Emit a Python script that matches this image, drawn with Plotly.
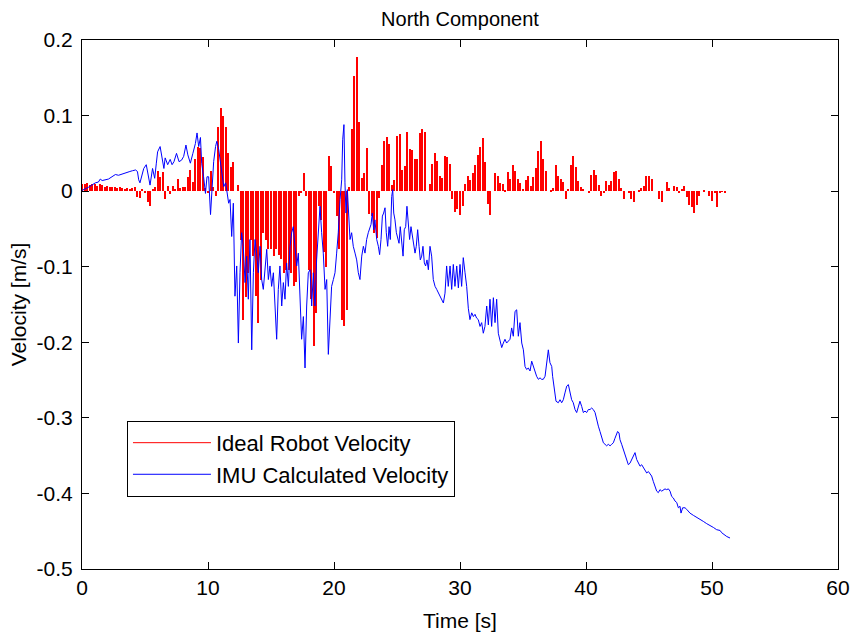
import plotly.graph_objects as go

# ---------------- data ----------------
# Ideal robot velocity: bar values sampled every 0.2 s starting at t = 0
bar_t0 = 0.0
bar_dt = 0.2
ideal_v = [
    # 0 - 2 s
    0.010, 0.009, 0.011, 0.008, 0.010, 0.009, 0.007, 0.009, 0.008, 0.006,
    # 2 - 4 s
    0.007, 0.006, 0.005, 0.006, 0.004, 0.005, 0.004, 0.003, 0.004, 0.003,
    # 4 - 6 s
    0.004, 0.005, -0.008, -0.009, 0.003, -0.002, -0.015, -0.020, 0.003, 0.005,
    # 6 - 8 s
    0.026, 0.019, 0.025, -0.011, 0.007, -0.004, 0.007, 0.003, 0.016, 0.004,
    # 8 - 10 s
    0.005, 0.006, 0.019, 0.028, 0.012, 0.042, 0.058, 0.057, 0.045, 0.004,
    # 10 - 12 s
    -0.003, 0.026, 0.005, -0.007, 0.085, 0.110, 0.100, 0.085, 0.050, 0.032,
    # 12 - 14 s
    0.038, 0.000, 0.008, -0.064, -0.170, -0.140, -0.108, -0.064, -0.086, -0.139,
    # 14 - 16 s
    -0.174, -0.117, -0.055, -0.064, -0.077, -0.077, -0.086, -0.077, -0.084, -0.090,
    # 16 - 18 s
    -0.108, -0.104, -0.104, -0.108, -0.125, -0.120, -0.007, -0.003, 0.024, -0.007,
    # 18 - 20 s
    -0.104, -0.143, -0.205, -0.161, -0.020, -0.038, -0.080, -0.100, 0.046, 0.033,
    # 20 - 22 s
    -0.002, -0.033, -0.077, -0.170, -0.179, -0.157, 0.006, 0.082, 0.152, 0.178,
    # 22 - 24 s
    0.092, 0.017, 0.024, 0.057, -0.030, -0.033, -0.055, -0.062, -0.009, 0.035,
    # 24 - 26 s
    0.067, 0.072, 0.062, 0.008, 0.015, 0.073, 0.075, 0.028, 0.033, 0.078,
    # 26 - 28 s
    0.056, 0.054, 0.042, 0.043, 0.077, 0.082, 0.078, 0.000, 0.010, 0.036,
    # 28 - 30 s
    0.051, 0.040, 0.020, 0.018, 0.046, 0.045, 0.036, -0.011, -0.028, -0.024,
    # 30 - 32 s
    -0.032, -0.020, 0.009, 0.020, 0.015, 0.024, 0.035, 0.048, 0.058, 0.070,
    # 32 - 34 s
    0.039, -0.017, -0.031, 0.000, 0.024, 0.020, 0.011, 0.010, 0.002, 0.025,
    # 34 - 36 s
    0.016, 0.034, 0.026, 0.016, 0.011, 0.003, 0.015, 0.020, 0.007, 0.019,
    # 36 - 38 s
    0.030, 0.053, 0.066, 0.042, 0.026, 0.000, 0.002, 0.004, 0.034, 0.020,
    # 38 - 40 s
    0.016, 0.012, -0.011, 0.003, 0.034, 0.047, 0.032, 0.013, 0.006, 0.003,
    # 40 - 42 s
    0.000, -0.003, 0.022, 0.028, 0.021, 0.008, -0.006, -0.002, 0.014, 0.008,
    # 42 - 44 s
    0.014, 0.025, 0.026, 0.016, 0.004, -0.010, 0.000, -0.002, -0.010, -0.014,
    # 44 - 46 s
    0.000, 0.001, 0.004, 0.007, 0.020, 0.020, 0.016, 0.000, 0.000, -0.011,
    # 46 - 48 s
    -0.015, 0.000, 0.012, 0.004, 0.000, 0.007, 0.006, -0.003, 0.003, 0.007,
    # 48 - 50 s
    -0.008, -0.018, -0.021, -0.029, -0.018, -0.007, 0.000, 0.001, 0.000, -0.007,
    # 50 - 51 s
    -0.013, -0.002, -0.021, -0.002, -0.001, -0.002,
]

# IMU calculated velocity (time [s], velocity [m/s])
imu_t = [
    0.00, 0.50, 1.06, 1.30, 1.45, 1.60, 2.10, 2.40, 2.65, 2.90, 3.20, 3.40, 3.60, 3.80,
    4.00, 4.25, 4.40, 4.50, 4.60, 4.75, 4.90, 5.10, 5.30, 5.40, 5.60, 5.77, 5.90, 6.00,
    6.20, 6.35, 6.50, 6.60, 6.80, 7.00, 7.15, 7.30, 7.50, 7.70, 7.90, 8.07, 8.25, 8.40,
    8.60, 8.80, 9.00, 9.13, 9.26, 9.40, 9.50, 9.65, 9.80, 9.92, 10.05, 10.20, 10.32,
    10.45, 10.60, 10.70, 10.85, 11.00, 11.10, 11.25, 11.40, 11.50, 11.64,
    11.75, 11.88, 12.01, 12.14, 12.28, 12.41, 12.54, 12.67, 12.80, 12.94, 13.07, 13.20,
    13.33, 13.47, 13.60, 13.73, 13.86, 13.99, 14.13, 14.26, 14.39, 14.52, 14.66, 14.79,
    14.92, 15.05, 15.19, 15.32, 15.45, 15.58, 15.71, 15.85, 15.98, 16.11, 16.24, 16.38,
    16.51, 16.64, 16.77, 16.90, 17.04, 17.17, 17.30, 17.43, 17.57, 17.70, 17.83, 17.96,
    18.10, 18.23, 18.36, 18.49, 18.62, 18.76, 18.89, 19.02, 19.15, 19.29, 19.42, 19.55,
    19.68, 19.81, 19.95, 20.08, 20.21, 20.34, 20.48, 20.61, 20.69, 20.79, 20.87, 20.95,
    21.06, 21.14, 21.27, 21.40, 21.53, 21.67, 21.80, 21.93, 22.06, 22.20, 22.33, 22.46,
    22.59, 22.72,
    22.94, 23.04, 23.15, 23.25, 23.39, 23.52, 23.62, 23.73, 23.84, 23.94, 24.05, 24.15,
    24.26, 24.37, 24.47, 24.58, 24.66, 24.74, 24.84, 24.95, 25.05, 25.16, 25.26, 25.37,
    25.48, 25.58, 25.69, 25.79, 25.90, 26.00, 26.11, 26.22, 26.32, 26.43, 26.53, 26.64,
    26.75, 26.85, 26.96, 27.06, 27.17, 27.27, 27.38, 27.49, 27.62, 27.75, 27.88, 28.02,
    28.15, 28.28, 28.41, 28.54, 28.68, 28.81, 28.94,
    29.07, 29.21, 29.34, 29.47, 29.60, 29.74, 29.87, 30.00, 30.13, 30.26, 30.40, 30.53,
    30.66, 30.79, 30.93, 31.06, 31.19, 31.32, 31.45, 31.59, 31.72, 31.85, 31.98, 32.12,
    32.25, 32.38, 32.51, 32.65, 32.78, 32.91, 33.04, 33.17, 33.31, 33.44, 33.57, 33.70,
    33.84, 33.97, 34.10, 34.23, 34.37, 34.50, 34.63, 34.76, 34.90, 35.03, 35.16, 35.29,
    35.42, 35.56, 35.69, 35.82, 35.95, 36.08, 36.22, 36.35, 36.48, 36.61, 36.75, 36.88,
    37.01, 37.14,
    37.28, 37.35, 37.46, 37.62, 37.80, 37.94, 38.07, 38.20, 38.33, 38.47, 38.60, 38.73,
    38.86, 38.99, 39.13, 39.26, 39.39, 39.52, 39.66, 39.79, 39.92, 40.05, 40.19, 40.32,
    40.45, 40.58, 40.72, 40.85, 40.98, 41.11, 41.24, 41.38, 41.51, 41.64, 41.77, 41.91,
    42.04, 42.17, 42.30, 42.43, 42.51, 42.62, 42.70, 42.83, 42.96, 43.10, 43.23, 43.36,
    43.49, 43.62, 43.76, 43.89, 44.02, 44.15, 44.29, 44.42, 44.55, 44.68, 44.82, 44.95,
    45.08, 45.21, 45.34, 45.48, 45.61, 45.74, 45.87, 46.01, 46.14, 46.27, 46.40, 46.54,
    46.67, 46.80, 46.93, 47.06, 47.20, 47.33, 47.46, 47.54, 47.67, 47.86, 47.99, 48.25,
    48.52, 48.78, 49.05, 49.31, 49.58, 49.84, 50.11, 50.37, 50.64, 50.77, 50.90, 51.17,
    51.43,
]
imu_v = [
    0.001, 0.005, 0.011, 0.012, 0.016, 0.014, 0.016, 0.019, 0.022, 0.021, 0.023, 0.024, 0.025, 0.026,
    0.027, 0.028, 0.026, 0.015, 0.011, 0.022, 0.030, 0.035, 0.019, 0.008, 0.030, 0.017, 0.037, 0.052,
    0.059, 0.041, 0.030, 0.044, 0.035, 0.042, 0.035, 0.039, 0.050, 0.039, 0.041, 0.046, 0.061, 0.048,
    0.037, 0.050, 0.063, 0.077, 0.059, 0.071, 0.037, 0.019, -0.003, 0.019, 0.019, -0.031, 0.010,
    0.039, 0.059, 0.066, 0.055, 0.037, 0.026, 0.006, 0.011, -0.003, -0.016,
    -0.011, -0.060, -0.016, -0.139, -0.099, -0.201, -0.108, -0.055, -0.073, -0.121, -0.086, -0.143,
    -0.064, -0.210, -0.108, -0.064, -0.082, -0.108, -0.073, -0.117, -0.130, -0.099, -0.077, -0.117,
    -0.099, -0.126, -0.108, -0.152, -0.196, -0.130, -0.099, -0.152, -0.121, -0.143, -0.095, -0.126,
    -0.073, -0.055, -0.047, -0.073, -0.099, -0.082, -0.135, -0.196, -0.166, -0.234, -0.152, -0.108,
    -0.104, -0.152, -0.108, -0.152, -0.091, -0.047, -0.020, -0.055, -0.082, -0.130, -0.117, -0.216,
    -0.170, -0.126, -0.117, -0.108, -0.082, -0.055, -0.011, 0.015, 0.068, 0.088, 0.011, -0.029,
    0.002, -0.029, -0.064, -0.055, -0.073, -0.082, -0.091, -0.108, -0.117, -0.086, -0.073, -0.082,
    -0.064, -0.055,
    -0.044, -0.029, -0.051, -0.038, -0.064, -0.073, -0.084, -0.064, -0.033, -0.029, -0.022, -0.055,
    -0.073, -0.047, -0.064, -0.007, 0.002, -0.029, -0.038, -0.055, -0.064, -0.069, -0.047, -0.073,
    -0.086, -0.051, -0.047, -0.020, -0.038, -0.064, -0.047, -0.060, -0.069, -0.082, -0.073, -0.051,
    -0.073, -0.091, -0.086, -0.073, -0.095, -0.099, -0.091, -0.104, -0.073, -0.086, -0.117, -0.126,
    -0.130, -0.135, -0.139, -0.144, -0.148, -0.135, -0.099,
    -0.126, -0.099, -0.130, -0.097, -0.126, -0.099, -0.128, -0.097, -0.126, -0.088, -0.108, -0.126,
    -0.155, -0.170, -0.161, -0.166, -0.163, -0.168, -0.170, -0.179, -0.174, -0.188, -0.179, -0.152,
    -0.177, -0.143, -0.179, -0.141, -0.174, -0.143, -0.188, -0.196, -0.207, -0.201, -0.196, -0.201,
    -0.199, -0.196, -0.181, -0.192, -0.159, -0.157, -0.192, -0.174, -0.201, -0.210, -0.232, -0.236,
    -0.234, -0.238, -0.225, -0.232, -0.238, -0.245, -0.249, -0.247, -0.249, -0.249, -0.245, -0.229,
    -0.210, -0.227,
    -0.232, -0.245, -0.260, -0.278, -0.280, -0.276, -0.280, -0.276, -0.267, -0.258, -0.256, -0.267,
    -0.276, -0.280, -0.289, -0.293, -0.285, -0.278, -0.285, -0.293, -0.291, -0.293, -0.289, -0.289,
    -0.287, -0.289, -0.293, -0.304, -0.311, -0.318, -0.327, -0.333, -0.335, -0.337, -0.335, -0.337,
    -0.335, -0.333, -0.327, -0.320, -0.318, -0.320, -0.329, -0.335, -0.342, -0.349, -0.355, -0.362,
    -0.360, -0.355, -0.351, -0.346, -0.355, -0.360, -0.364, -0.362, -0.366, -0.368, -0.373, -0.371,
    -0.375, -0.377, -0.384, -0.390, -0.397, -0.399, -0.395, -0.397, -0.395, -0.394, -0.395, -0.394,
    -0.397, -0.404, -0.406, -0.410, -0.412, -0.419, -0.417, -0.426, -0.419, -0.419, -0.421, -0.426,
    -0.429, -0.432, -0.435, -0.437, -0.440, -0.442, -0.445, -0.448, -0.449, -0.452, -0.454, -0.457,
    -0.459,
]

x_ticks = [0, 10, 20, 30, 40, 50, 60]
y_ticks = [0.2, 0.1, 0.0, -0.1, -0.2, -0.3, -0.4, -0.5]
y_tick_text = ["0.2", "0.1", "0", "-0.1", "-0.2", "-0.3", "-0.4", "-0.5"]

title_text = "North Component"
x_label = "Time [s]"
y_label = "Velocity [m/s]"
names = ["Ideal Robot Velocity", "IMU Calculated Velocity"]

# ---------------- figure ----------------
FONT = "Liberation Sans, Arial, Helvetica, sans-serif"
RED = "rgb(255,0,0)"
BLUE = "rgb(0,0,255)"

fig = go.Figure()
fig.add_trace(go.Bar(
    x0=bar_t0, dx=bar_dt, y=ideal_v,
    width=0.16,
    marker=dict(color=RED, line=dict(width=0)),
    showlegend=False, legendgroup="a", hoverinfo="skip",
))
# legend entry for the bars (shown as a line, like the original)
fig.add_trace(go.Scatter(
    x=[None], y=[None], mode="lines", line=dict(color=RED, width=1),
    name=names[0], legendgroup="a",
))
fig.add_trace(go.Scatter(
    x=imu_t, y=imu_v, mode="lines", line=dict(color=BLUE, width=1),
    name=names[1], legendgroup="b",
))

axis_common = dict(
    showgrid=False, zeroline=False, showline=True, linecolor="black", linewidth=1,
    mirror="ticks", ticks="inside", ticklen=7, tickcolor="black", tickwidth=1,
    tickfont=dict(family=FONT, size=21, color="black"),
)

fig.update_layout(
    width=858, height=633,
    margin=dict(l=82, r=20, t=40, b=64),
    paper_bgcolor="white", plot_bgcolor="white",
    bargap=0,
    title=dict(text=title_text, x=0.5, xref="paper", y=1, yref="paper",
               yanchor="bottom", pad=dict(b=14),
               font=dict(family=FONT, size=20, color="black")),
    xaxis=dict(range=[0, 60], tickvals=x_ticks, automargin=False,
               title=dict(text=x_label, font=dict(family=FONT, size=21, color="black")),
               **axis_common),
    yaxis=dict(range=[-0.5, 0.2], tickvals=y_ticks, ticktext=y_tick_text,
               ticklabelstandoff=4, automargin=True,
               title=dict(text=y_label, font=dict(family=FONT, size=21, color="black"), standoff=4),
               **axis_common),
    legend=dict(x=0.0595, y=0.28, xanchor="left", yanchor="top",
                bgcolor="white", bordercolor="black", borderwidth=1,
                font=dict(family=FONT, size=22, color="black"),
                itemwidth=78, tracegroupgap=5, traceorder="normal"),
    showlegend=True,
)

fig.write_html("out.html")
